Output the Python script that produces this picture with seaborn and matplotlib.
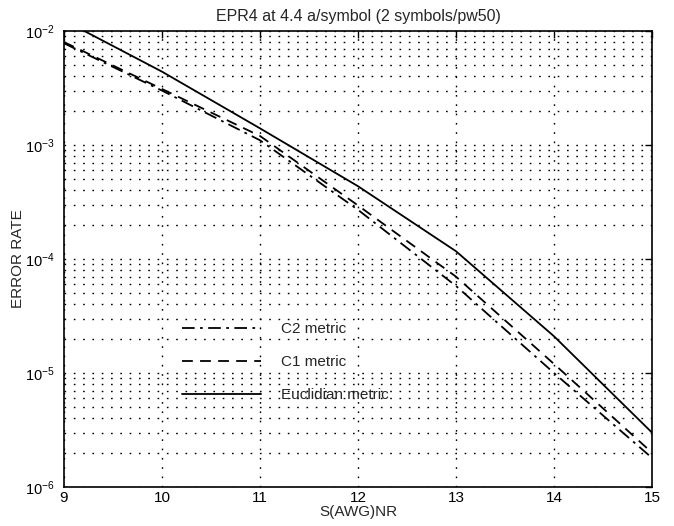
import numpy as np
import pandas as pd
import matplotlib
matplotlib.use("Agg")
import matplotlib.pyplot as plt
import seaborn as sns
from matplotlib.ticker import LogLocator, NullFormatter, FixedLocator

# ---- data ----
snr = [9, 10, 11, 12, 13, 14, 15]
c2_metric = [7.8e-3, 3.0e-3, 1.1e-3, 2.7e-4, 5.8e-5, 1.0e-5, 1.8e-6]
c1_metric = [8.0e-3, 3.1e-3, 1.2e-3, 2.95e-4, 7.0e-5, 1.2e-5, 2.0e-6]
euclid_metric = [1.24e-2, 4.4e-3, 1.4e-3, 4.35e-4, 1.17e-4, 2.1e-5, 3.0e-6]
series_labels = ["C2 metric", "C1 metric", "Euclidian metric"]
x_ticks = [9, 10, 11, 12, 13, 14, 15]

title = "EPR4 at 4.4 a/symbol (2 symbols/pw50)"
xlabel = "S(AWG)NR"
ylabel = "ERROR RATE"

sns.set_style("white")
plt.rcParams['font.family'] = ['Liberation Sans', 'DejaVu Sans']
plt.rcParams['axes.edgecolor'] = 'black'
plt.rcParams['axes.linewidth'] = 1.2

fig = plt.figure(figsize=(6.74, 5.26), dpi=100)
ax = fig.add_axes([64/674, 1-487/526, (652-64)/674, (487-31)/526])

styles = [(0, (7, 3, 1.5, 3)), (0, (6, 4)), '-']
for vals, lab, ls in zip([c2_metric, c1_metric, euclid_metric], series_labels, styles):
    df = pd.DataFrame({"snr": snr, "err": vals})
    sns.lineplot(data=df, x="snr", y="err", ax=ax, color="black",
                 linestyle=ls, linewidth=1.3, label=lab)

ax.set_yscale("log")
ax.set_xlim(9, 15)
ax.set_ylim(1e-6, 1e-2)
ax.xaxis.set_major_locator(FixedLocator(x_ticks))
ax.set_xticklabels([str(t) for t in x_ticks])
ax.yaxis.set_major_locator(LogLocator(base=10, numticks=10))
ax.yaxis.set_minor_locator(LogLocator(base=10, subs=np.arange(2, 10), numticks=100))
ax.yaxis.set_minor_formatter(NullFormatter())

grid_ls = (0, (1.2, 5.5))
ax.grid(True, which="major", axis="both", color="black", linestyle=grid_ls, linewidth=1.0)
ax.grid(True, which="minor", axis="y", color="black", linestyle=grid_ls, linewidth=1.0)
ax.tick_params(axis="both", which="major", direction="in", length=5, width=1,
               top=True, right=True, colors="black")
ax.tick_params(axis="x", which="major", pad=3, labelsize=11)
ax.tick_params(axis="y", which="major", pad=7, labelsize=10.5)
ax.tick_params(axis="y", which="minor", direction="in", length=0)
for s in ax.spines.values():
    s.set_visible(True)
    s.set_color("black")

ax.set_title(title, fontsize=11.5, pad=7)
ax.set_xlabel(xlabel, fontsize=11, labelpad=0)
ax.set_ylabel(ylabel, fontsize=11, labelpad=0)

leg = ax.legend(loc="center left", bbox_to_anchor=(0.20, 0.274), frameon=False,
                fontsize=11, handlelength=5.2, handletextpad=1.3, labelspacing=1.25,
                borderpad=0, borderaxespad=0)

fig.savefig("out.png", dpi=100, facecolor="white")
